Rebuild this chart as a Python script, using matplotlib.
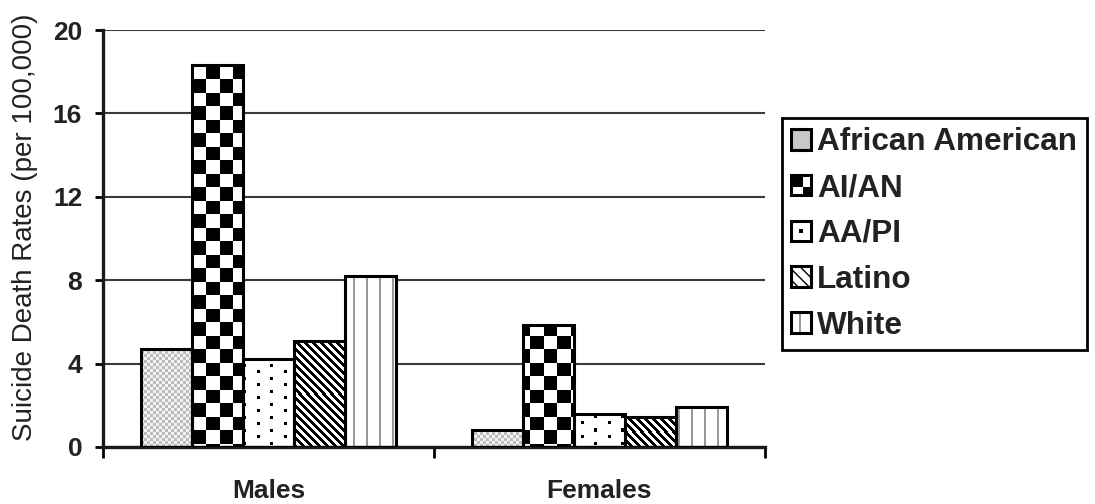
import numpy as np
import matplotlib
matplotlib.use("Agg")
import matplotlib.pyplot as plt
from matplotlib.patches import Rectangle
from matplotlib.legend_handler import HandlerBase

# data
groups = ["Males", "Females"]
series = ["African American", "AI/AN", "AA/PI", "Latino", "White"]
african_american = [4.7, 0.8]
ai_an = [18.3, 5.85]
aa_pi = [4.2, 1.6]
latino = [5.1, 1.45]
white = [8.2, 1.9]
yticks = [0, 4, 8, 12, 16, 20]

values = [african_american, ai_an, aa_pi, latino, white]
kinds = ["stipple", "checker", "dots", "stripes", "vlines"]

plt.rcParams["font.family"] = ["Liberation Sans", "DejaVu Sans"]
TXT = "#222222"

W, H = 1095, 504
fig, ax = plt.subplots(figsize=(W / 100, H / 100), dpi=100)
fig.subplots_adjust(left=103 / W, right=765 / W, bottom=(H - 447) / H, top=(H - 30) / H)
ax.set_xlim(0, 2)
ax.set_ylim(0, 20)

bw = 0.1535
centers = np.arange(len(groups)) + 0.5


# pixel patterns, coordinates are global figure pixels (y down)
def pattern(kind, xx, yy, ox, oy):
    img = np.ones(xx.shape + (3,))
    if kind == "stipple":
        m = ((xx // 3) + (yy // 3)) % 2 == 0
        img[m] = 0.74
        img[~m] = 0.95
    elif kind == "checker":
        cx = np.floor((xx - ox) / 13.5).astype(int)
        cy = np.floor((yy - oy) / 13.5).astype(int)
        img[(cx + cy) % 2 == 1] = 0.0
    elif kind == "dots":
        m = (((xx % 27) < 3) & ((yy % 13) < 3)) | ((((xx + 13) % 27) < 3) & (((yy + 7) % 13) < 3))
        img[m] = 0.0
    elif kind == "stripes":
        img[((xx - yy) % 8) < 4] = 0.0
    elif kind == "vlines":
        img[((xx - 2) % 13) < 2] = 0.6
    return img


def to_pix(x, y):
    px, py = ax.transData.transform((x, y))
    return px, H - py


# anchor for the checkerboard at the top-left of the tallest checker bar
ox, oy = to_pix(centers[0] + (1 - 2) * bw - bw / 2, ai_an[0])

for i, (vals, kind, name) in enumerate(zip(values, kinds, series)):
    xs = centers + (i - 2) * bw
    bars = ax.bar(xs, vals, bw, facecolor="none", edgecolor="black", linewidth=2.2, zorder=3, label=name)
    for b in bars:
        x0, x1 = b.get_x(), b.get_x() + b.get_width()
        h = b.get_height()
        px0, py_top = to_pix(x0, h)
        px1, py_bot = to_pix(x1, 0)
        pw = max(int(round(px1 - px0)), 1)
        ph = max(int(round(py_bot - py_top)), 1)
        yy, xx = np.mgrid[0:ph, 0:pw]
        xx = xx + int(round(px0))
        yy = yy + int(round(py_top))
        img = pattern(kind, xx, yy, ox, oy)
        ax.imshow(img, extent=(x0, x1, 0, h), origin="upper", interpolation="nearest",
                  aspect="auto", zorder=2)

ax.set_xlim(0, 2)
ax.set_ylim(0, 20)

# axes styling
ax.set_yticks(yticks)
ax.yaxis.grid(True, color="#3a3a3a", linewidth=1.5)
ax.set_axisbelow(True)
for s in ["top", "right"]:
    ax.spines[s].set_visible(False)
for s in ["left", "bottom"]:
    ax.spines[s].set_linewidth(2.4)
    ax.spines[s].set_color("#1a1a1a")
ax.tick_params(axis="y", direction="out", length=6, width=2, pad=9, labelsize=19, labelcolor=TXT)
for t in ax.get_yticklabels():
    t.set_fontweight("bold")

ax.set_xticks([0, 1, 2])
ax.set_xticklabels([])
ax.tick_params(axis="x", which="major", direction="out", length=8, width=2)
ax.set_xticks(centers, minor=True)
ax.set_xticklabels(groups, minor=True, fontsize=19, fontweight="bold", color=TXT)
ax.tick_params(axis="x", which="minor", length=0, pad=23)

ax.set_ylabel("Suicide Death Rates (per 100,000)", fontsize=20, color=TXT, va="center")
ax.yaxis.set_label_coords(-0.118, 0.527)


# legend with small pattern swatches
class SwatchHandler(HandlerBase):
    def __init__(self, kind):
        super().__init__()
        self.kind = kind

    def create_artists(self, legend, orig_handle, xdescent, ydescent, width, height, fontsize, trans):
        x, y, w, h = -xdescent, -ydescent, width, height
        arts = []
        if self.kind == "stipple":
            arts.append(Rectangle((x, y), w, h, facecolor="#c8c8c8", edgecolor="none", transform=trans))
        elif self.kind == "checker":
            arts.append(Rectangle((x, y + h * 0.4), w * 0.6, h * 0.6, facecolor="black", edgecolor="none", transform=trans))
            arts.append(Rectangle((x + w * 0.6, y), w * 0.4, h * 0.4, facecolor="black", edgecolor="none", transform=trans))
        elif self.kind == "dots":
            arts.append(Rectangle((x + w * 0.38, y + h * 0.38), w * 0.2, h * 0.2, facecolor="black", edgecolor="none", transform=trans))
        elif self.kind == "stripes":
            arts.append(Rectangle((x, y), w, h, facecolor="white", edgecolor="black", hatch="\\\\\\", linewidth=0, transform=trans))
        elif self.kind == "vlines":
            arts.append(Rectangle((x + w * 0.38, y), w * 0.12, h, facecolor="#999999", edgecolor="none", transform=trans))
        arts.append(Rectangle((x, y), w, h, facecolor="none", edgecolor="black", linewidth=2.2, transform=trans))
        return arts


handles = [Rectangle((0, 0), 1, 1) for _ in series]
leg = fig.legend(handles, series, loc="upper left", bbox_to_anchor=(782 / W, (H - 118) / H),
                 bbox_transform=fig.transFigure, borderaxespad=0, fancybox=False, framealpha=1,
                 edgecolor="black", borderpad=0.3, handlelength=0.62, handleheight=0.62,
                 handletextpad=0.2, labelspacing=0.5,
                 prop={"size": 22.7, "weight": "bold"},
                 handler_map={h: SwatchHandler(k) for h, k in zip(handles, kinds)})
leg.get_frame().set_linewidth(2)
for t in leg.get_texts():
    t.set_color(TXT)

fig.savefig("out.png", dpi=100)
